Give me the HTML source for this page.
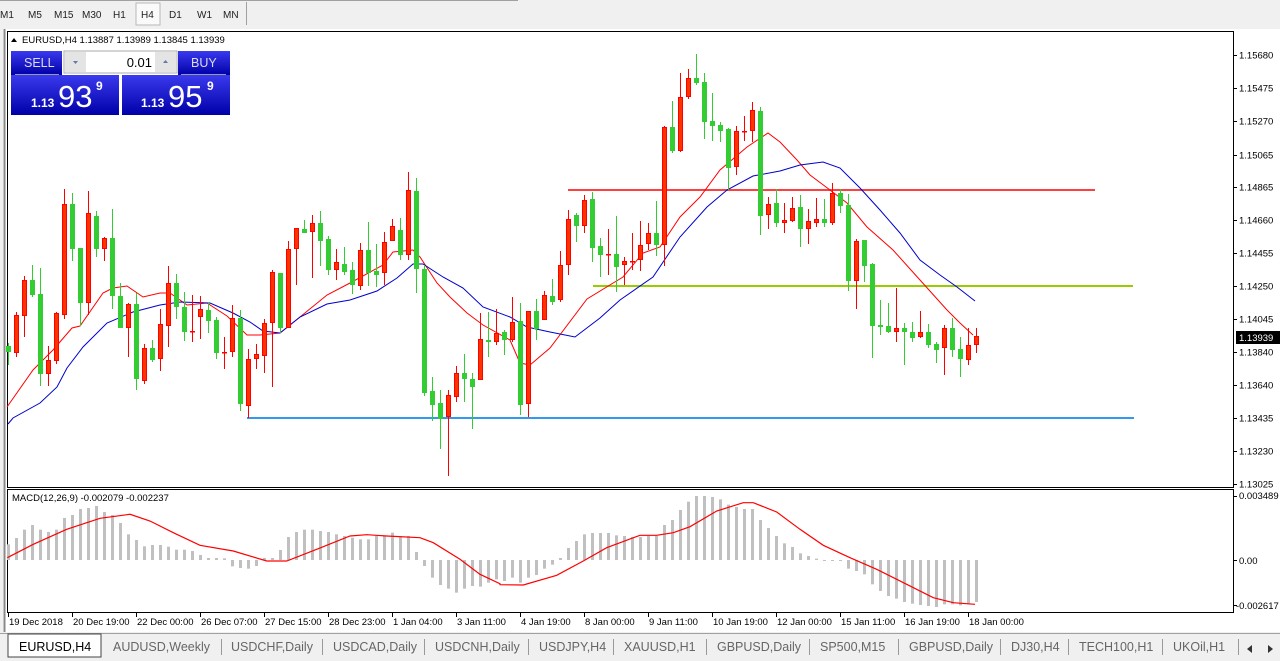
<!DOCTYPE html>
<html><head><meta charset="utf-8">
<style>
html,body{margin:0;padding:0;width:1280px;height:661px;overflow:hidden;background:#f0f0f0;font-family:"Liberation Sans",Tahoma,sans-serif}
svg{position:absolute;left:0;top:0}
</style></head>
<body>
<svg id="s" width="1280" height="661" xmlns="http://www.w3.org/2000/svg" font-family="Liberation Sans, sans-serif">
<rect x="0" y="0" width="1280" height="27" fill="#f0f0f0"/>
<line x1="0" y1="0.5" x2="518" y2="0.5" stroke="#a0a0a0"/>
<rect x="136" y="3" width="24" height="22" fill="#fafafa" stroke="#b8b8b8"/>
<line x1="246.5" y1="2" x2="246.5" y2="25" stroke="#a0a0a0"/>
<g font-size="10" fill="#222">
<text x="0" y="18">M1</text><text x="28" y="18">M5</text><text x="54" y="18">M15</text><text x="82" y="18">M30</text><text x="113" y="18">H1</text><text x="141" y="18">H4</text><text x="169" y="18">D1</text><text x="197" y="18">W1</text><text x="223" y="18">MN</text>
</g>
<rect x="3" y="29" width="1277" height="603" fill="#fff"/>
<line x1="4.5" y1="29" x2="4.5" y2="632" stroke="#888" stroke-width="2"/>
<rect x="7.5" y="31.5" width="1226" height="456" fill="#fff" stroke="#000"/>
<rect x="7.5" y="489.5" width="1226" height="123" fill="#fff" stroke="#000"/>
<g id="g"></g>
<text x="22" y="43" font-size="9.5" fill="#000">EURUSD,H4  1.13887 1.13989 1.13845 1.13939</text>
<path d="M11 42 L14 38 L17 42Z" fill="#000"/>
<text x="12" y="501" font-size="9.5" fill="#000">MACD(12,26,9) -0.002079 -0.002237</text>
<defs><linearGradient id="bl" x1="0" y1="0" x2="0" y2="1"><stop offset="0" stop-color="#3a3aee"/><stop offset="1" stop-color="#0000a8"/></linearGradient></defs>
<rect x="11" y="51" width="51" height="24" fill="url(#bl)"/>
<rect x="178" y="51" width="52" height="24" fill="url(#bl)"/>
<rect x="11" y="75" width="108" height="40" fill="url(#bl)"/>
<rect x="122" y="75" width="108" height="40" fill="url(#bl)"/>
<line x1="15" y1="74.5" x2="59" y2="74.5" stroke="#99a"/>
<line x1="181" y1="74.5" x2="226" y2="74.5" stroke="#99a"/>
<rect x="64" y="51" width="113" height="22" fill="#fff" stroke="#aaa"/>
<rect x="65" y="52" width="21" height="20" fill="#e4e4e4"/>
<rect x="155" y="52" width="21" height="20" fill="#e4e4e4"/>
<path d="M73 61 L78 61 L75.5 64Z" fill="#6677aa"/><path d="M163 63 L168 63 L165.5 60Z" fill="#6677aa"/>
<text x="152" y="67" font-size="13" text-anchor="end" fill="#000">0.01</text>
<text x="24" y="67" font-size="12.5" fill="#dde">SELL</text>
<text x="191" y="67" font-size="12.5" fill="#dde">BUY</text>
<g fill="#fff"><text x="31" y="107" font-size="12" font-weight="bold">1.13</text><text x="58" y="107" font-size="31">93</text><text x="96" y="90" font-size="12" font-weight="bold">9</text>
<text x="141" y="107" font-size="12" font-weight="bold">1.13</text><text x="168" y="107" font-size="31">95</text><text x="207" y="90" font-size="12" font-weight="bold">9</text></g>
<g font-size="9.5" fill="#000" id="pa"></g>
<rect x="1236" y="331" width="44" height="13" fill="#000"/>
<text x="1239" y="341" font-size="9.5" fill="#fff">1.13939</text>
<g font-size="9.5" fill="#000">
<text x="1239" y="499">0.003489</text><text x="1239" y="564">0.00</text><text x="1236" y="609">-0.002617</text>
</g>
<g id="ta" font-size="9.5" fill="#000"></g>
<rect x="0" y="632" width="1280" height="29" fill="#f0f0f0"/>
<line x1="0" y1="633.5" x2="1280" y2="633.5" stroke="#a0a0a0"/>
<rect x="8" y="634" width="93" height="23" fill="#fff" stroke="#444"/>
<g font-size="12.5" fill="#666">
<text x="19" y="651" fill="#000">EURUSD,H4</text>
<text x="113" y="651">AUDUSD,Weekly</text><text x="231" y="651">USDCHF,Daily</text><text x="333" y="651">USDCAD,Daily</text><text x="435" y="651">USDCNH,Daily</text><text x="539" y="651">USDJPY,H4</text><text x="624" y="651">XAUUSD,H1</text><text x="717" y="651">GBPUSD,Daily</text><text x="820" y="651">SP500,M15</text><text x="909" y="651">GBPUSD,Daily</text><text x="1011" y="651">DJ30,H4</text><text x="1079" y="651">TECH100,H1</text><text x="1173" y="651">UKOil,H1</text>
</g>
<g stroke="#999"><line x1="221.5" y1="639" x2="221.5" y2="655"/><line x1="322.5" y1="639" x2="322.5" y2="655"/><line x1="424.5" y1="639" x2="424.5" y2="655"/><line x1="528.5" y1="639" x2="528.5" y2="655"/><line x1="613.5" y1="639" x2="613.5" y2="655"/><line x1="706.5" y1="639" x2="706.5" y2="655"/><line x1="809.5" y1="639" x2="809.5" y2="655"/><line x1="898.5" y1="639" x2="898.5" y2="655"/><line x1="1000.5" y1="639" x2="1000.5" y2="655"/><line x1="1068.5" y1="639" x2="1068.5" y2="655"/><line x1="1162.5" y1="639" x2="1162.5" y2="655"/><line x1="1238.5" y1="639" x2="1238.5" y2="655"/></g>
<path d="M1252 645 L1247 649 L1252 653Z M1268 645 L1273 649 L1268 653Z" fill="#333"/>
</svg>
<script>
var NS="http://www.w3.org/2000/svg",g=document.getElementById("g");
function el(t,a,p){var e=document.createElementNS(NS,t);for(var k in a)e.setAttribute(k,a[k]);(p||g).appendChild(e);return e;}
var pl=[["1.15680",55],["1.15475",88],["1.15270",121],["1.15065",155],["1.14865",187],["1.14660",220],["1.14455",253],["1.14250",286],["1.14045",319],["1.13840",352],["1.13640",385],["1.13435",418],["1.13230",451],["1.13025",484]];
var pa=document.getElementById("pa");
pl.forEach(function(p){el("text",{x:1239,y:p[1]+3.5},pa).textContent=p[0];el("line",{x1:1233,y1:p[1]+.5,x2:1237,y2:p[1]+.5,stroke:"#000"});});
[496,560,605].forEach(function(y){el("line",{x1:1233,y1:y+.5,x2:1237,y2:y+.5,stroke:"#000"});});
var tl=["19 Dec 2018","20 Dec 19:00","22 Dec 00:00","26 Dec 07:00","27 Dec 15:00","28 Dec 23:00","1 Jan 04:00","3 Jan 11:00","4 Jan 19:00","8 Jan 00:00","9 Jan 11:00","10 Jan 19:00","12 Jan 00:00","15 Jan 11:00","16 Jan 19:00","18 Jan 00:00"];
var ta=document.getElementById("ta");
tl.forEach(function(t,i){var x=8+64*i;el("line",{x1:x+.5,y1:612,x2:x+.5,y2:617,stroke:"#000"});el("text",{x:x+1,y:625},ta).textContent=t;});
el("line",{x1:568,y1:190,x2:1095,y2:190,stroke:"#ff4040","stroke-width":2});
el("line",{x1:593,y1:286,x2:1133,y2:286,stroke:"#99cc00","stroke-width":2});
el("line",{x1:247,y1:418,x2:1134,y2:418,stroke:"#3399ee","stroke-width":2});
var h=[[8,175],[16,156],[24,131],[32,117],[40,131],[48,138],[56,131],[64,96],[72,87],[80,69],[88,66],[96,60],[104,78],[112,87],[120,111],[128,145],[136,162],[144,181],[152,177],[160,177],[168,182],[176,191],[184,191],[192,195],[200,207],[208,216],[216,216],[224,217],[232,241],[240,246],[248,248],[256,240],[264,216],[272,216],[280,192],[288,153],[296,138],[304,131],[312,131],[320,135],[328,138],[336,145],[344,150],[352,155],[360,160],[368,160],[376,150],[384,150],[392,140],[400,151],[408,150],[416,198],[424,240],[432,275],[440,297],[448,308],[456,320],[464,308],[472,300],[480,302],[488,290],[496,280],[504,285],[512,275],[520,290],[528,275],[536,267],[544,248],[552,236],[560,216],[568,186],[576,165],[584,145],[592,141],[600,141],[608,141],[616,148],[624,150],[632,153],[640,153],[648,150],[656,150],[664,117],[672,102],[680,72],[688,47],[696,30],[704,30],[712,33],[720,40],[728,56],[736,63],[744,69],[752,69],[760,102],[768,126],[776,150],[784,172],[792,183],[800,202],[808,210],[816,218],[824,224],[832,224],[840,224],[848,248],[856,255],[864,265],[872,295],[880,315],[888,330],[896,338],[904,348],[912,353],[920,357],[928,360],[936,363],[944,355],[952,355],[960,358],[968,355],[976,348]];
h.forEach(function(b){var y=486+b[1]/3,z=560;var t=Math.min(y,z),hh=Math.max(Math.abs(y-z),1);el("rect",{x:b[0]-1,y:t,width:3,height:hh,fill:"#c0c0c0"});});
function pts(arr,ox,oy){return arr.map(function(p){return (ox+p[0]/3).toFixed(1)+","+(oy+p[1]/3).toFixed(1);}).join(" ");}
var sg=pts([[22,215],[100,175],[200,130],[300,97],[390,85],[450,105],[520,140],[600,178],[700,195],[800,225],[860,225],[950,190],[1050,150],[1100,146],[1160,150],[1260,155],[1300,170],[1380,220],[1440,265],[1500,293]],0,486)+" "+pts([[0,296],[70,297],[170,268],[250,225],[320,185],[420,148],[470,148],[520,140],[570,122],[650,75],[730,50],[760,50],[830,78],[900,130],[970,178],[1050,215],[1130,250],[1220,295],[1300,335],[1360,350],[1425,355]],500,486);
el("polyline",{points:sg,fill:"none",stroke:"#ff0000","stroke-width":1.2});
var red="7,407 33,370 53,350 72,328 80,326 103,293 113,288 127,286 143,297 160,293 170,293 187,305 207,303 227,316 247,335 260,335 280,333 300,317 327,295 350,283 383,265 393,252 413,250 420,257 437,283 450,297 467,313 483,325 510,340 520,363 530,365 550,348 587,299 623,277 643,253 660,247 680,217 700,197 720,170 747,147 768,133 780,142 797,160 810,175 830,190 847,203 867,227 893,250 920,280 947,310 960,323 973,335";
var blue="8,424 13,418 40,403 57,387 67,368 83,347 107,323 133,312 160,305 180,302 210,303 233,313 250,322 263,331 280,333 300,317 327,304 350,300 377,291 397,278 413,264 423,264 443,277 463,288 483,307 510,317 527,327 550,332 575,337 600,318 620,300 653,277 680,237 707,207 727,190 753,176 780,171 800,165 823,162 840,168 860,188 880,210 900,233 920,260 940,275 957,287 975,301";
el("polyline",{points:red,fill:"none",stroke:"#ff0000","stroke-width":1});
el("polyline",{points:blue,fill:"none",stroke:"#0000cc","stroke-width":1});
var C=[[8,346,352,343,365,"g"],[16,315,353,312,357,"r"],[24,280,316,276,337,"r"],[32,280,295,265,297,"g"],[40,294,374,268,386,"g"],[48,360,374,346,386,"r"],[56,313,361,312,364,"r"],[64,204,315,189,319,"r"],[72,204,249,193,261,"g"],[80,248,303,248,326,"g"],[88,213,303,191,315,"r"],[96,216,249,211,257,"g"],[104,238,249,237,261,"r"],[112,238,296,209,309,"g"],[120,296,328,283,328,"g"],[128,304,328,303,357,"r"],[136,304,379,293,390,"g"],[144,348,381,344,384,"r"],[152,348,360,340,362,"g"],[160,324,359,309,371,"r"],[168,283,326,266,347,"r"],[176,283,307,274,319,"g"],[184,307,332,292,341,"g"],[192,331,332,295,342,"r"],[200,309,317,296,339,"r"],[208,310,321,302,333,"g"],[216,320,353,317,359,"g"],[224,352,353,337,369,"r"],[232,318,352,305,357,"r"],[240,318,404,310,411,"g"],[248,359,406,349,418,"r"],[256,354,359,344,369,"r"],[264,323,356,319,373,"r"],[272,272,323,270,387,"r"],[280,273,328,273,333,"g"],[288,249,328,241,328,"r"],[296,228,249,228,285,"r"],[304,229,233,220,233,"g"],[312,223,232,215,278,"r"],[320,223,241,211,266,"g"],[328,239,270,236,275,"g"],[336,262,270,249,280,"r"],[344,264,272,247,275,"g"],[352,270,285,262,294,"g"],[360,250,286,243,290,"r"],[368,250,273,222,286,"g"],[376,271,275,244,287,"g"],[384,242,273,232,285,"r"],[392,226,241,219,241,"r"],[400,230,255,218,260,"g"],[408,190,255,172,260,"r"],[416,191,269,178,293,"g"],[424,269,393,265,396,"g"],[432,391,405,377,421,"g"],[440,403,419,390,449,"g"],[448,395,417,390,476,"r"],[456,373,397,366,402,"r"],[464,373,379,354,402,"g"],[472,379,387,373,429,"g"],[480,339,380,313,380,"r"],[488,340,342,312,357,"g"],[496,333,342,309,345,"r"],[504,332,340,330,355,"g"],[512,322,340,297,342,"r"],[520,321,405,303,415,"g"],[528,311,404,311,417,"r"],[536,311,329,299,340,"g"],[544,295,320,291,320,"r"],[552,296,302,279,305,"g"],[560,265,300,251,302,"r"],[568,219,265,210,275,"r"],[576,215,226,213,242,"g"],[584,200,226,195,233,"r"],[592,199,248,192,262,"g"],[600,246,255,238,277,"g"],[608,254,255,229,275,"r"],[616,254,267,216,292,"g"],[624,261,265,257,285,"r"],[632,261,262,233,270,"r"],[640,245,260,221,271,"r"],[648,233,244,223,250,"r"],[656,233,245,201,256,"g"],[664,127,245,126,266,"r"],[672,127,151,101,153,"g"],[680,97,151,73,152,"r"],[688,78,97,69,99,"r"],[696,78,83,54,85,"g"],[704,82,122,73,139,"g"],[712,121,126,93,141,"g"],[720,125,131,122,142,"g"],[728,129,168,128,190,"g"],[736,131,167,126,175,"r"],[744,131,132,116,141,"r"],[752,110,131,102,142,"r"],[760,111,216,107,235,"g"],[768,204,215,197,229,"r"],[776,203,223,189,227,"g"],[784,220,223,203,233,"r"],[792,208,221,197,222,"r"],[800,207,229,195,247,"g"],[808,221,229,209,244,"r"],[816,219,223,198,227,"r"],[824,219,223,199,227,"g"],[832,193,223,183,225,"r"],[840,193,206,189,213,"g"],[848,205,281,194,291,"g"],[856,241,281,239,309,"r"],[864,240,266,240,282,"g"],[872,264,326,263,358,"g"],[880,325,327,300,335,"g"],[888,326,332,303,333,"g"],[896,328,332,288,342,"r"],[904,328,332,323,365,"g"],[912,332,338,322,342,"g"],[920,332,337,311,338,"r"],[928,332,345,324,348,"g"],[936,344,350,342,363,"g"],[944,328,348,325,375,"r"],[952,328,350,318,357,"g"],[960,349,359,337,377,"g"],[968,345,360,328,365,"r"],[976,336,345,328,353,"r"]];
C.forEach(function(c){var col=c[5]=="r"?"#ff0000":"#33cc33",fill=c[5]=="r"?"#ff3300":"#33cc33";
el("line",{x1:c[0]+.5,y1:c[3],x2:c[0]+.5,y2:c[4],stroke:col,"stroke-width":1});
var hh=Math.max(c[2]-c[1],1);
if(c[5]=="r")el("rect",{x:c[0]-1.5,y:c[1]+.5,width:4,height:Math.max(hh-1,0.5),fill:fill,stroke:col,"stroke-width":1});
else el("rect",{x:c[0]-2,y:c[1],width:5,height:hh,fill:fill});});
</script>
</body></html>
